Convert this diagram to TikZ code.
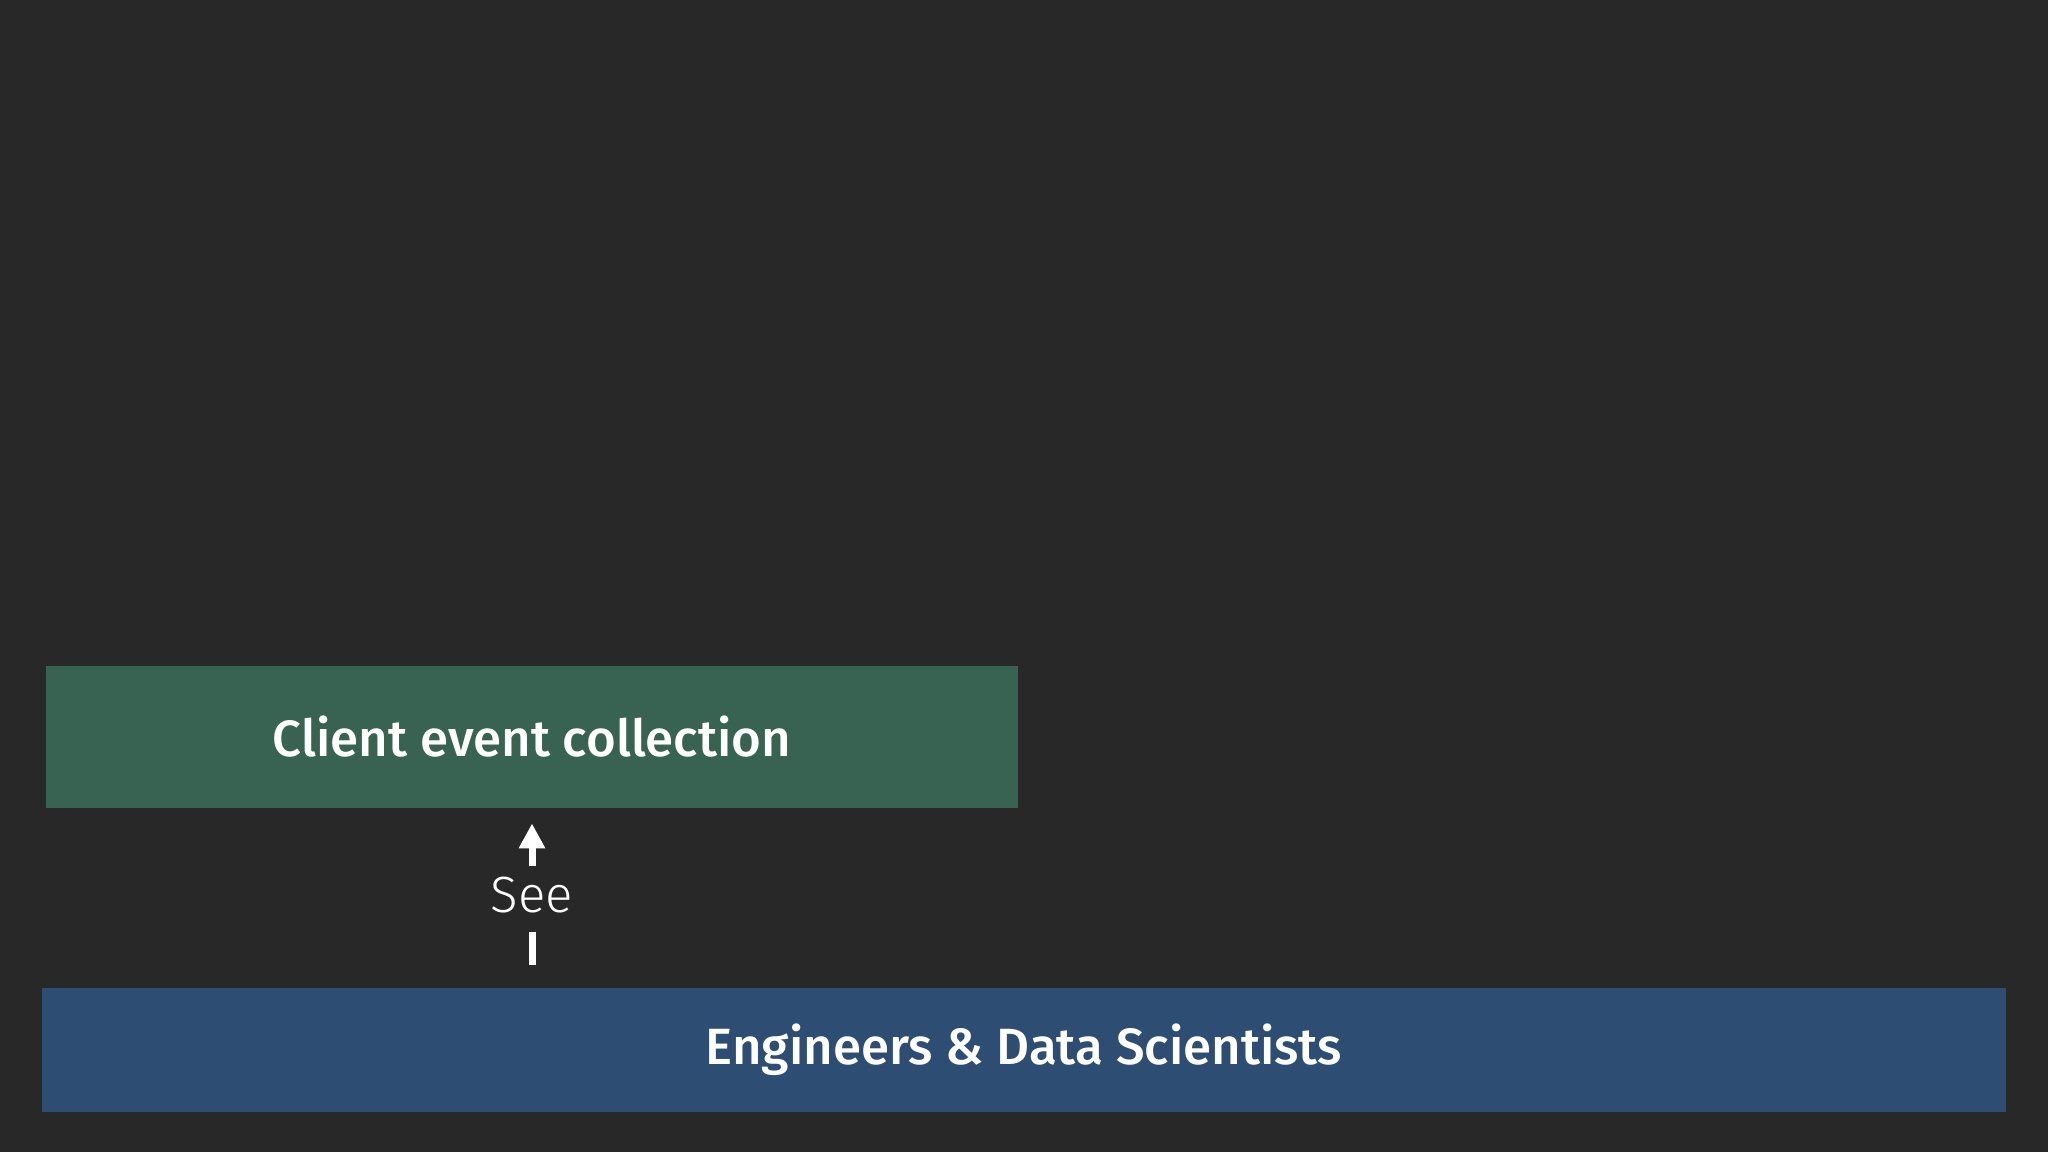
\documentclass[tikz,border=0pt]{standalone}
\usepackage{fontspec}
\setmainfont{Fira Sans}[BoldFont={Fira Sans Medium}]
\newfontfamily\seefont{Fira Sans Light}
\usetikzlibrary{arrows.meta}
\definecolor{slatebg}{RGB}{40,40,40}
\definecolor{clientgreen}{RGB}{56,99,82}
\definecolor{teamblue}{RGB}{45,78,114}
\begin{document}
\begin{tikzpicture}[x=0.01cm,y=-0.01cm,
    layer/.style={inner sep=0pt,text=white,
      font=\bfseries\fontsize{14.5}{18}\selectfont},
    verb/.style={inner sep=0pt,text=white,font=\seefont\fontsize{14.5}{17}\selectfont},
    link/.style={white,line width=0.07cm}]
  \fill[slatebg] (0,0) rectangle (2048,1152);
  \node[layer,fill=clientgreen,minimum width=9.72cm,minimum height=1.42cm]
    (client) at (532,737) {Client event collection};
  \node[layer,fill=teamblue,minimum width=19.62cm,minimum height=1.24cm]
    (team) at (1024,1050) {Engineers \& Data Scientists};
  \node[verb] (see) at (532,895) {See};
  \draw[link,-{Triangle[width=0.25cm,length=0.25cm]},
    shorten <=0.1cm,shorten >=0.147cm] (see.north) -- (client.south);
  \draw[link,shorten <=0.18cm,shorten >=0.22cm] (see.south) -- (see.south |- team.north);
\end{tikzpicture}
\end{document}
